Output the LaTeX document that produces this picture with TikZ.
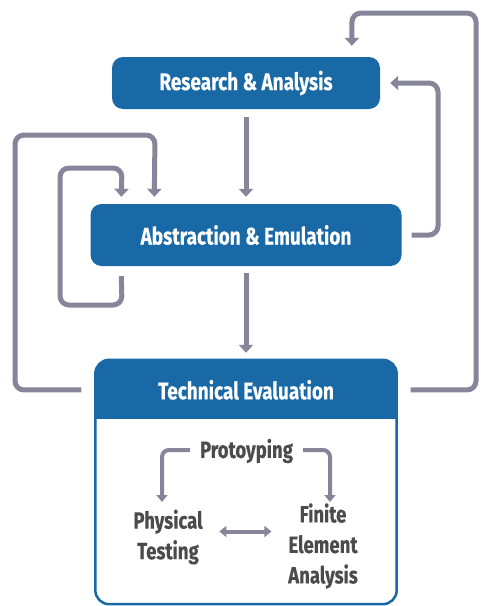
\documentclass[tikz,border=0pt]{standalone}
\usepackage{fontspec}
\setmainfont{Fira Sans}[UprightFont=* Bold, FakeStretch=0.79, FakeBold=0.3]
\usetikzlibrary{arrows.meta,calc}
\definecolor{boxblue}{HTML}{1A69A7}
\definecolor{flowgrey}{HTML}{86859A}
\definecolor{innertext}{HTML}{4B4B4D}
\tikzset{
  stage/.style={fill=boxblue, rounded corners=11, text=white,
    font=\fontsize{24}{28}\selectfont, inner sep=0},
  flow/.style={draw=flowgrey, line width=5, rounded corners=9,
    -{Triangle[width=14,length=8]}},
  subflow/.style={draw=flowgrey, line width=4, rounded corners=7,
    -{Triangle[width=11,length=7]}},
  subtext/.style={text=innertext, font=\fontsize{23.5}{30.5}\selectfont,
    align=center, inner sep=0},
}
\begin{document}
\begin{tikzpicture}[x=1pt, y=-1pt]
\useasboundingbox (0,0) rectangle (480,606);

% main stages
\node[stage, minimum width=268, minimum height=52] (ra) at (246,83) {Research \& Analysis};
\node[stage, minimum width=311, minimum height=62] (ae) at (246,235) {Abstraction \& Emulation};
\node[minimum width=301, minimum height=244, inner sep=0] (te) at (246,482) {};

% technical evaluation frame with its header band
\begin{scope}
  \clip[rounded corners=14] (te.south west) rectangle (te.north east);
  \fill[white] (te.south west) rectangle (te.north east);
  \fill[boxblue] (te.north west) rectangle ($(te.north east)+(0,59)$);
\end{scope}
\draw[boxblue, line width=2.5, rounded corners=14] (te.south west) rectangle (te.north east);
\node[text=white, font=\fontsize{24}{28}\selectfont, inner sep=0] (teh)
  at ($(te.north)+(0,30)$) {Technical Evaluation};

% forward flow
\draw[flow] ($(ra.south)+(0,8)$) -- ($(ae.north)+(0,-7)$);
\draw[flow] ($(ae.south)+(0,7)$) -- ($(te.north)+(0,-7)$);

% feedback loops
\draw[flow] ($(ae.south west)+(31,10)$) -- (122,305) -- (60,305) -- (60,168)
  -- (122,168) -- ($(ae.north west)+(31,-7)$);
\draw[flow] ($(te.north west)+(-14,30)$) -- (15,390) -- (15,135) -- (155,135)
  -- ($(ae.north west)+(64,-7)$);
\draw[flow] ($(ae.east)+(10,0)$) -- (438,235) -- (438,83) -- ($(ra.east)+(10,0)$);
\draw[flow] ($(te.north east)+(14,30)$) -- (476,390) -- (476,13) -- (352,13)
  -- ($(ra.north west)+(240,-11)$);

% evaluation methods
\node[subtext] (pr) at (246.5,451) {Protoyping};
\node[subtext] (ph) at (168,537) {Physical\\Testing};
\node[subtext] (fe) at (323,546) {Finite\\Element\\Analysis};

\draw[subflow] ($(pr.west)+(-10,-1)$) -- (162,450) -- (162,502);
\draw[subflow] ($(pr.east)+(10,-1)$) -- (330,450) -- (330,502);
\draw[subflow, {Triangle[width=11,length=7]}-{Triangle[width=11,length=7]}]
  ($(ph.east)!.5!(fe.west)+(-26,-10)$) -- ($(ph.east)!.5!(fe.west)+(26,-10)$);
\end{tikzpicture}
\end{document}
